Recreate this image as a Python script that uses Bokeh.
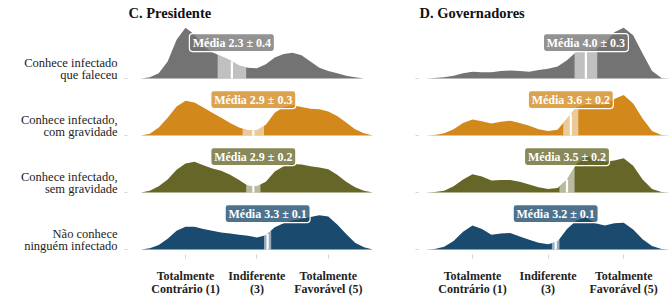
import numpy as np
from bokeh.plotting import figure
from bokeh.layouts import row
from bokeh.models import FixedTicker, Label, LinearAxis, Rect
from bokeh.embed import file_html
from bokeh.resources import INLINE

# ---------------- data ----------------
groups_line1 = ["Conhece infectado", "Conhece infectado,", "Conhece infectado,", "Não conhece"]
groups_line2 = ["que faleceu", "com gravidade", "sem gravidade", "ninguém infectado"]
colors = ["#737373", "#D2881B", "#676629", "#1A4A6E"]

x_grid = [-0.25, 0.0, 0.25, 0.5, 0.75, 1.0, 1.25, 1.5, 1.75, 2.0, 2.25, 2.5, 2.75,
          3.0, 3.25, 3.5, 3.75, 4.0, 4.25, 4.5, 4.75, 5.0, 5.25, 5.5, 5.75, 6.0, 6.25]

# C. Presidente (density heights, in row-spacing units)
pres_faleceu = [0, .02, .09, .30, .68, .89, .77, .58, .46, .39, .32, .23, .19, .18,
                .25, .37, .43, .45, .41, .30, .19, .13, .09, .05, .02, 0, 0]
pres_grave = [0, .03, .14, .31, .51, .61, .58, .49, .40, .31, .22, .14, .09, .09,
              .19, .40, .50, .53, .50, .47, .46, .42, .34, .23, .11, .04, 0]
pres_leve = [0, .03, .11, .23, .40, .51, .54, .48, .42, .38, .31, .22, .12, .11,
             .19, .37, .46, .50, .49, .46, .44, .41, .31, .19, .09, .03, 0]
pres_nao = [0, .02, .08, .19, .33, .40, .40, .36, .33, .30, .28, .26, .24, .21,
            .25, .39, .46, .51, .54, .57, .60, .58, .44, .27, .12, .04, 0]
pres_mean = [2.3, 2.9, 2.9, 3.3]
pres_ci = [0.4, 0.3, 0.2, 0.1]

# D. Governadores
gov_faleceu = [0, .01, .02, .05, .09, .12, .11, .11, .13, .14, .13, .12, .15, .17,
               .21, .32, .47, .50, .51, .61, .81, .89, .76, .44, .13, .01, 0]
gov_grave = [0, .01, .04, .11, .22, .28, .25, .21, .24, .26, .22, .17, .11, .08,
             .10, .30, .50, .54, .54, .54, .64, .71, .56, .30, .08, .01, 0]
gov_leve = [0, .01, .03, .11, .23, .32, .28, .21, .22, .22, .19, .14, .09, .06,
            .08, .23, .50, .63, .61, .54, .56, .60, .47, .23, .06, .01, 0]
gov_nao = [0, .01, .05, .15, .31, .42, .36, .26, .28, .29, .23, .17, .12, .09,
           .14, .36, .51, .56, .46, .42, .46, .47, .35, .18, .06, .01, 0]
gov_mean = [4.0, 3.6, 3.5, 3.2]
gov_ci = [0.3, 0.2, 0.2, 0.1]

x_ticks = [1, 3, 5]
x_tick_line1 = ["Totalmente", "Indiferente", "Totalmente"]
x_tick_line2 = ["Contrário (1)", "(3)", "Favorável (5)"]

# ---------------- layout ----------------
SERIF = "Liberation Serif"
H = 299
S1, S2, TICK_OUT, LINE_H = 10, -4, 4, 17.5
BOTTOM = int(round(TICK_OUT + S1 + S2 + 2 * LINE_H))
baselines = [3, 2, 1, 0]
PX_PER_ROW = 57.0
FRAME_H = H - BOTTOM
TOP_PAD = 78.0
BOT_PAD = FRAME_H - TOP_PAD - 3 * PX_PER_ROW
Y_END = baselines[0] + TOP_PAD / PX_PER_ROW
Y_START = baselines[-1] - BOT_PAD / PX_PER_ROW
L1_OFF = 16.0 / PX_PER_ROW
L2_OFF = 3.5 / PX_PER_ROW
BOX_OFF = 0.63

rect_extra = {"border_radius": 3} if "border_radius" in Rect.properties() else {}


def style_xaxis(ax, labels, standoff, tick_out):
    ax.ticker = FixedTicker(ticks=x_ticks)
    ax.major_label_overrides = {t: s for t, s in zip(x_ticks, labels)}
    ax.major_label_text_font = SERIF
    ax.major_label_text_font_style = "bold"
    ax.major_label_text_font_size = "12px"
    ax.major_label_text_color = "#222222"
    ax.axis_line_color = None
    ax.major_tick_line_color = "#d5d5d5" if tick_out else None
    ax.major_tick_in = 0
    ax.major_tick_out = tick_out
    ax.minor_tick_line_color = None
    ax.major_label_standoff = standoff


def panel(title, dens, means, cis, width, min_left, x_start, x_end, left_labels):
    p = figure(width=width, height=H, x_range=(x_start, x_end), y_range=(Y_START, Y_END),
               output_backend="svg", toolbar_location=None,
               min_border_left=min_left, min_border_right=0,
               min_border_top=0, min_border_bottom=BOTTOM)
    p.xgrid.visible = False
    p.ygrid.visible = False
    p.outline_line_color = None
    p.background_fill_color = "white"
    p.border_fill_color = "white"

    xg = np.array(x_grid, dtype=float)
    for i in range(4):
        d = np.array(dens[i], dtype=float)
        base = baselines[i]
        p.varea(x=xg, y1=np.full_like(xg, base), y2=base + d,
                fill_color=colors[i], fill_alpha=1.0)
        m, ci = means[i], cis[i]
        lo, hi = m - ci, m + ci
        xb = [lo] + [g for g in x_grid if lo < g < hi] + [hi]
        yb = np.interp(xb, xg, d)
        p.varea(x=xb, y1=[base] * len(xb), y2=base + yb,
                fill_color="white", fill_alpha=0.55)
        hm = float(np.interp(m, xg, d))
        p.segment(x0=[m], y0=[base], x1=[m], y1=[base + hm],
                  line_color="white", line_width=2.2)

    for i in range(4):
        m, ci = means[i], cis[i]
        yb = baselines[i] + BOX_OFF
        p.rect(x=[m], y=[yb], width=85, height=18, width_units="screen",
               height_units="screen", fill_color=colors[i], fill_alpha=0.78,
               line_color="white", line_width=1.2, **rect_extra)
        p.add_layout(Label(x=m, y=yb, text=f"Média {m:.1f} ± {ci:.1f}",
                           text_align="center", text_baseline="middle",
                           text_color="white", text_font=SERIF, text_font_style="bold",
                           text_font_size="12px"))

    p.add_layout(Label(x=x_start, y=Y_END, text=title, x_offset=1, y_offset=-12,
                       text_align="left", text_baseline="middle", text_font=SERIF,
                       text_font_style="bold", text_font_size="14.5px", text_color="#111111"))

    style_xaxis(p.xaxis[0], x_tick_line1, S1, TICK_OUT)
    ax2 = LinearAxis()
    style_xaxis(ax2, x_tick_line2, S2, 0)
    p.add_layout(ax2, "below")

    ya = p.yaxis[0]
    ya.axis_line_color = None
    ya.minor_tick_line_color = None
    ya.ticker = FixedTicker(ticks=baselines)
    ya.major_label_overrides = {t: "" for t in baselines}
    ya.major_label_text_font_size = "1px"
    ya.major_label_standoff = 0
    ya.major_tick_line_color = "#d5d5d5"
    ya.major_tick_in = 0
    ya.major_tick_out = 3

    if left_labels:
        ticks, over = [], {}
        for i in range(4):
            t1 = round(baselines[i] + L1_OFF, 4)
            t2 = round(baselines[i] + L2_OFF, 4)
            ticks += [t1, t2]
            over[t1] = groups_line1[i]
            over[t2] = groups_line2[i]
        ay = LinearAxis(ticker=FixedTicker(ticks=ticks), major_label_overrides=over)
        ay.axis_line_color = None
        ay.major_tick_line_color = None
        ay.minor_tick_line_color = None
        ay.major_tick_in = 0
        ay.major_tick_out = 0
        ay.major_label_standoff = 7
        ay.major_label_text_font = SERIF
        ay.major_label_text_font_size = "12.5px"
        ay.major_label_text_color = "#222222"
        p.add_layout(ay, "left")
    return p


# left: frame from x 127 to 375 ; 1 -> 185, 5 -> 328
L_PX = 35.7
pL = panel("C. Presidente", [pres_faleceu, pres_grave, pres_leve, pres_nao],
           pres_mean, pres_ci, 375, 127,
           1 + (127 - 185) / L_PX, 1 + (375 - 185) / L_PX, True)
# right: frame from x 418 to 670 ; 1 -> 472, 5 -> 623
R_PX = 37.8
pR = panel("D. Governadores", [gov_faleceu, gov_grave, gov_leve, gov_nao],
           gov_mean, gov_ci, 295, 43,
           1 + (418 - 472) / R_PX, 1 + (670 - 472) / R_PX, False)

layout = row(pL, pR)
open("out.html", "w").write(file_html(layout, INLINE))
